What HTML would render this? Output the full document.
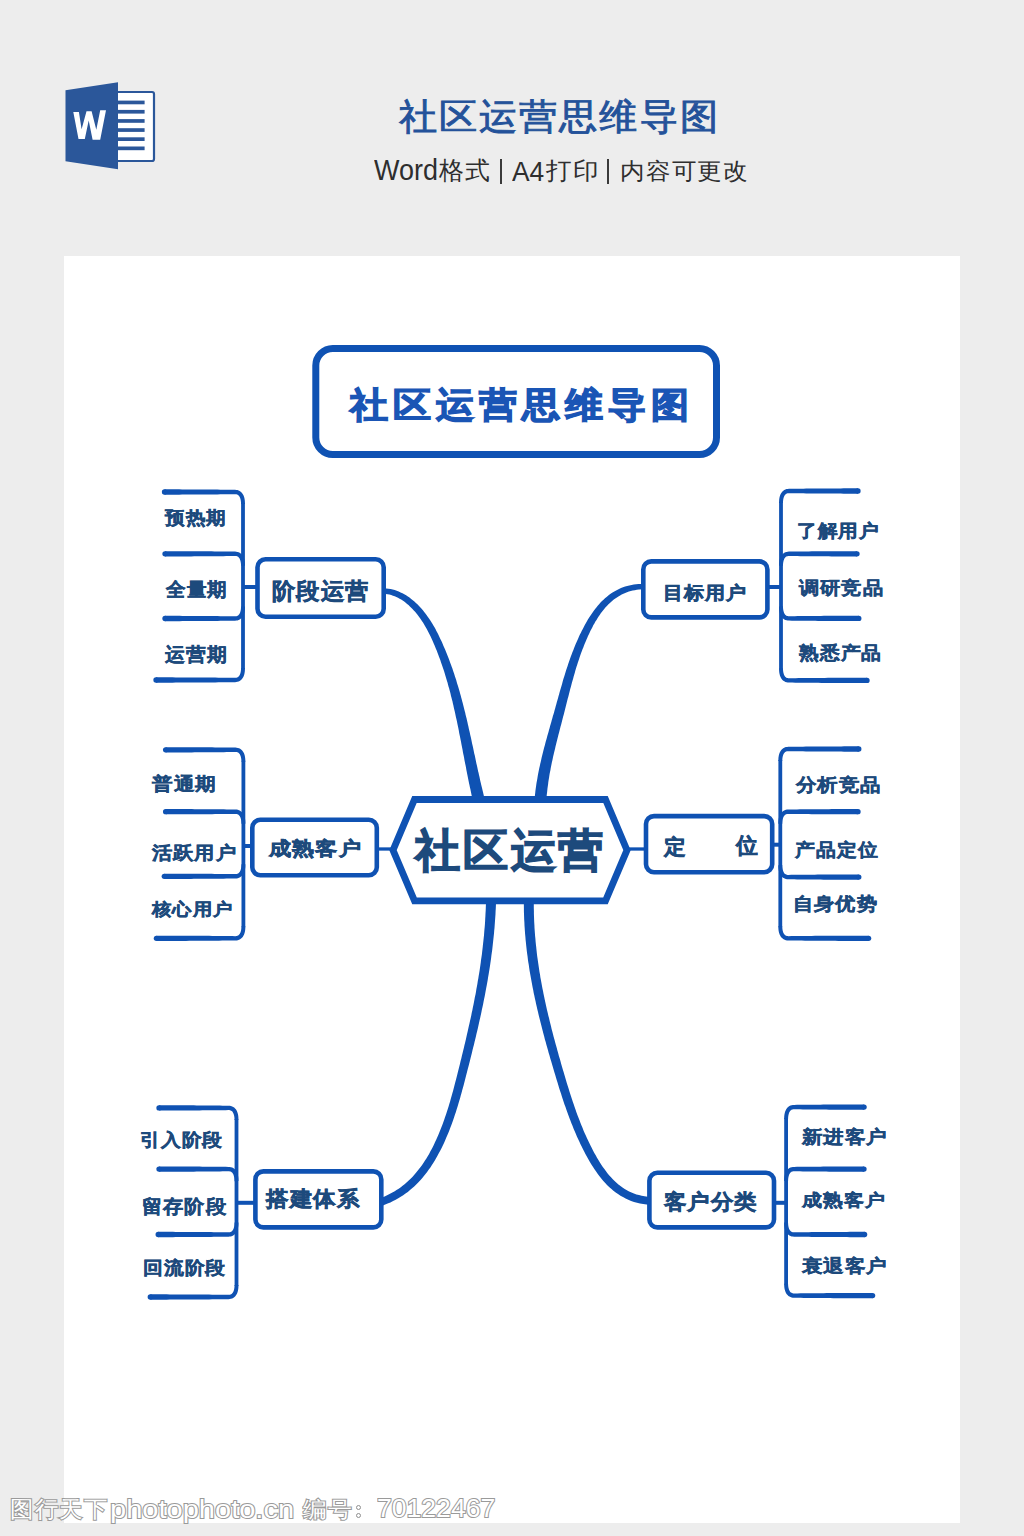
<!DOCTYPE html>
<html><head><meta charset="utf-8"><style>
html,body{margin:0;padding:0;}
body{width:1024px;height:1536px;overflow:hidden;background:#ededed;position:relative;font-family:"Liberation Sans",sans-serif;}
.abs{position:absolute;}
.t{position:absolute;white-space:nowrap;transform-origin:0 0;}
.page{position:absolute;left:64px;top:256px;width:896px;height:1267px;background:#fff;}
</style></head><body>
<div class="page"></div>
<svg class="abs" style="left:0;top:0" width="200" height="200" viewBox="0 0 200 200">
<rect x="110" y="92" width="44" height="69" rx="2" fill="#fff" stroke="#2b579a" stroke-width="2.2"/>
<g fill="#2b579a">
<rect x="112" y="100.6" width="32.6" height="3.7"/><rect x="112" y="109.9" width="32.6" height="3.7"/>
<rect x="112" y="119.1" width="32.6" height="3.7"/><rect x="112" y="128.2" width="32.6" height="3.7"/>
<rect x="112" y="137.3" width="32.6" height="3.7"/><rect x="112" y="146.5" width="32.6" height="3.7"/>
</g>
<polygon points="65.5,90.3 118,82.2 118,169.2 65.5,161.2" fill="#2b579a"/>
<path d="M73.3,112 L78.9,112 L81.6,129.3 L86.5,111.2 L91.6,111.2 L96.3,129.8 L100.2,110.3 L106,110.3 L100.2,139.8 L92.6,139.8 L88.7,120.5 L84.8,139 L78.5,139 Z" fill="#fff"/>
</svg>
<svg class="abs" style="left:0;top:0" width="1024" height="1536" viewBox="0 0 1024 1536">
<path d="M381.7,593.6 L385.7,593.9 L387.6,594.2 L389.4,594.6 L391.2,595.1 L393.0,595.7 L394.7,596.3 L396.4,597.0 L398.0,597.8 L399.6,598.7 L401.2,599.6 L402.7,600.6 L404.2,601.6 L405.7,602.7 L407.1,603.9 L408.5,605.1 L409.9,606.4 L411.2,607.7 L412.5,609.0 L413.8,610.4 L415.1,611.8 L416.3,613.3 L417.5,614.7 L418.6,616.2 L419.7,617.8 L420.8,619.3 L421.9,620.9 L423.0,622.5 L424.0,624.2 L425.0,625.9 L425.9,627.5 L426.9,629.2 L427.8,631.0 L428.7,632.7 L429.6,634.5 L430.5,636.3 L431.3,638.0 L432.1,639.8 L433.0,641.7 L433.7,643.5 L434.5,645.3 L435.3,647.2 L436.0,649.0 L436.8,650.8 L437.5,652.7 L438.2,654.6 L438.9,656.4 L439.6,658.3 L440.3,660.1 L440.9,662.0 L441.6,663.9 L442.2,665.7 L442.8,667.6 L443.5,669.5 L444.1,671.3 L444.7,673.2 L445.2,675.1 L445.8,677.0 L446.4,678.9 L446.9,680.7 L447.5,682.6 L448.0,684.5 L448.5,686.4 L449.1,688.3 L449.6,690.2 L450.1,692.1 L450.6,694.0 L451.0,695.9 L451.5,697.8 L452.0,699.7 L452.5,701.6 L452.9,703.5 L453.4,705.5 L453.8,707.4 L454.2,709.3 L454.7,711.2 L455.1,713.1 L455.5,715.1 L455.9,717.0 L456.4,718.9 L456.8,720.8 L457.2,722.8 L457.6,724.7 L458.0,726.6 L458.4,728.6 L458.8,730.5 L459.1,732.4 L459.5,734.4 L459.9,736.3 L460.3,738.3 L460.7,740.2 L461.1,742.2 L461.4,744.1 L461.8,746.1 L462.2,748.0 L462.6,750.0 L462.9,751.9 L463.3,753.9 L463.7,755.8 L464.1,757.8 L464.4,759.8 L464.8,761.7 L465.2,763.7 L465.6,765.6 L466.0,767.6 L466.3,769.6 L466.7,771.5 L467.1,773.5 L467.5,775.5 L467.9,777.4 L468.3,779.4 L468.7,781.4 L469.1,783.4 L469.5,785.3 L469.9,787.3 L470.4,789.3 L470.8,791.3 L471.2,793.3 L471.6,795.2 L473.2,802.1 L484.7,799.4 L483.1,792.6 L482.6,790.6 L482.2,788.7 L481.7,786.7 L481.2,784.8 L480.8,782.9 L480.3,780.9 L479.9,779.0 L479.5,777.0 L479.0,775.1 L478.6,773.1 L478.1,771.2 L477.7,769.2 L477.3,767.3 L476.9,765.4 L476.4,763.4 L476.0,761.5 L475.6,759.5 L475.2,757.6 L474.8,755.6 L474.3,753.7 L473.9,751.7 L473.5,749.8 L473.1,747.8 L472.7,745.9 L472.2,743.9 L471.8,742.0 L471.4,740.0 L471.0,738.1 L470.5,736.1 L470.1,734.2 L469.7,732.3 L469.2,730.3 L468.8,728.4 L468.4,726.4 L467.9,724.5 L467.5,722.5 L467.0,720.6 L466.6,718.6 L466.1,716.7 L465.6,714.8 L465.2,712.8 L464.7,710.9 L464.2,709.0 L463.7,707.0 L463.2,705.1 L462.7,703.1 L462.2,701.2 L461.7,699.3 L461.2,697.4 L460.7,695.4 L460.1,693.5 L459.6,691.6 L459.0,689.6 L458.5,687.7 L457.9,685.8 L457.3,683.9 L456.7,682.0 L456.2,680.0 L455.5,678.1 L454.9,676.2 L454.3,674.3 L453.7,672.4 L453.0,670.5 L452.4,668.6 L451.7,666.7 L451.0,664.8 L450.3,662.9 L449.6,661.0 L448.9,659.1 L448.2,657.2 L447.4,655.3 L446.7,653.4 L445.9,651.5 L445.1,649.6 L444.3,647.7 L443.5,645.9 L442.7,644.0 L441.9,642.1 L441.0,640.2 L440.1,638.4 L439.2,636.5 L438.3,634.6 L437.4,632.8 L436.4,631.0 L435.5,629.1 L434.5,627.3 L433.4,625.5 L432.4,623.8 L431.3,622.0 L430.2,620.3 L429.0,618.6 L427.9,616.9 L426.7,615.2 L425.4,613.5 L424.2,611.9 L422.9,610.3 L421.6,608.8 L420.2,607.3 L418.8,605.8 L417.4,604.3 L415.9,602.9 L414.4,601.5 L412.8,600.2 L411.2,598.9 L409.5,597.6 L407.9,596.4 L406.1,595.3 L404.3,594.3 L402.5,593.3 L400.6,592.4 L398.7,591.5 L396.7,590.8 L394.7,590.1 L392.7,589.6 L390.6,589.1 L388.4,588.8 L386.3,588.5 L382.0,588.3Z" fill="#0f52b3"/>
<path d="M642.9,583.9 L638.5,584.1 L636.1,584.3 L633.8,584.6 L631.6,585.0 L629.3,585.4 L627.2,586.0 L625.1,586.6 L623.0,587.3 L621.0,588.1 L619.0,589.0 L617.1,589.9 L615.2,590.9 L613.4,592.0 L611.7,593.1 L609.9,594.3 L608.3,595.6 L606.6,596.9 L605.0,598.3 L603.5,599.7 L602.0,601.1 L600.5,602.6 L599.1,604.2 L597.7,605.8 L596.4,607.4 L595.1,609.0 L593.8,610.7 L592.6,612.5 L591.4,614.2 L590.2,616.0 L589.0,617.8 L587.9,619.6 L586.8,621.4 L585.8,623.3 L584.8,625.1 L583.8,627.0 L582.8,628.9 L581.8,630.8 L580.9,632.7 L579.9,634.6 L579.0,636.5 L578.2,638.5 L577.3,640.4 L576.5,642.3 L575.6,644.3 L574.8,646.2 L574.0,648.2 L573.3,650.2 L572.5,652.1 L571.8,654.1 L571.0,656.1 L570.3,658.1 L569.6,660.1 L568.9,662.1 L568.2,664.1 L567.6,666.1 L566.9,668.1 L566.2,670.1 L565.6,672.1 L565.0,674.1 L564.4,676.1 L563.7,678.1 L563.1,680.1 L562.5,682.2 L562.0,684.2 L561.4,686.2 L560.8,688.2 L560.2,690.2 L559.6,692.2 L559.1,694.2 L558.5,696.2 L558.0,698.2 L557.4,700.2 L556.8,702.2 L556.3,704.2 L555.7,706.2 L555.2,708.2 L554.6,710.2 L554.1,712.2 L553.5,714.2 L552.9,716.1 L552.4,718.1 L551.8,720.1 L551.3,722.1 L550.7,724.0 L550.1,726.0 L549.6,728.0 L549.0,730.0 L548.5,731.9 L547.9,733.9 L547.3,735.9 L546.8,737.9 L546.3,739.8 L545.7,741.8 L545.2,743.8 L544.7,745.8 L544.1,747.8 L543.6,749.8 L543.1,751.8 L542.6,753.8 L542.1,755.8 L541.6,757.8 L541.2,759.8 L540.7,761.9 L540.2,763.9 L539.8,765.9 L539.3,768.0 L538.9,770.0 L538.5,772.1 L538.1,774.1 L537.7,776.2 L537.4,778.3 L537.0,780.4 L536.6,782.5 L536.3,784.6 L536.0,786.7 L535.7,788.8 L535.4,790.9 L535.2,793.1 L534.4,800.2 L546.1,801.4 L546.8,794.4 L547.1,792.3 L547.3,790.3 L547.5,788.2 L547.8,786.2 L548.1,784.2 L548.3,782.2 L548.6,780.2 L549.0,778.1 L549.3,776.1 L549.6,774.1 L550.0,772.1 L550.4,770.2 L550.7,768.2 L551.1,766.2 L551.5,764.2 L551.9,762.2 L552.4,760.2 L552.8,758.3 L553.2,756.3 L553.7,754.3 L554.1,752.4 L554.6,750.4 L555.1,748.4 L555.5,746.4 L556.0,744.5 L556.5,742.5 L557.0,740.5 L557.5,738.6 L558.0,736.6 L558.5,734.6 L559.0,732.7 L559.5,730.7 L560.0,728.7 L560.5,726.7 L561.1,724.7 L561.6,722.8 L562.1,720.8 L562.6,718.8 L563.1,716.8 L563.7,714.8 L564.2,712.8 L564.7,710.8 L565.2,708.8 L565.7,706.7 L566.2,704.7 L566.7,702.7 L567.2,700.7 L567.7,698.7 L568.3,696.7 L568.8,694.7 L569.3,692.7 L569.8,690.7 L570.3,688.7 L570.9,686.7 L571.4,684.7 L571.9,682.7 L572.5,680.7 L573.1,678.7 L573.6,676.7 L574.2,674.7 L574.8,672.7 L575.3,670.7 L575.9,668.7 L576.5,666.8 L577.2,664.8 L577.8,662.8 L578.4,660.9 L579.1,658.9 L579.7,657.0 L580.4,655.1 L581.1,653.1 L581.8,651.2 L582.5,649.3 L583.3,647.4 L584.0,645.5 L584.8,643.6 L585.6,641.7 L586.4,639.8 L587.2,637.9 L588.0,636.1 L588.9,634.2 L589.7,632.4 L590.6,630.5 L591.6,628.7 L592.5,626.9 L593.4,625.1 L594.4,623.4 L595.4,621.6 L596.5,619.9 L597.5,618.2 L598.6,616.6 L599.7,614.9 L600.8,613.3 L602.0,611.8 L603.2,610.2 L604.4,608.8 L605.6,607.3 L606.9,605.9 L608.2,604.5 L609.6,603.2 L611.0,602.0 L612.4,600.7 L613.8,599.6 L615.3,598.5 L616.9,597.4 L618.4,596.4 L620.1,595.4 L621.7,594.6 L623.4,593.7 L625.2,593.0 L627.0,592.3 L628.9,591.6 L630.8,591.1 L632.7,590.6 L634.8,590.2 L636.8,589.8 L639.0,589.5 L643.2,589.2Z" fill="#0f52b3"/>
<path d="M486.1,900.1 L485.8,907.8 L485.7,910.6 L485.5,913.4 L485.4,916.1 L485.2,918.9 L485.1,921.6 L484.9,924.4 L484.7,927.1 L484.4,929.9 L484.2,932.6 L484.0,935.3 L483.7,938.0 L483.4,940.7 L483.1,943.5 L482.8,946.2 L482.5,948.9 L482.2,951.6 L481.9,954.3 L481.5,957.0 L481.1,959.6 L480.8,962.3 L480.4,965.0 L480.0,967.7 L479.6,970.4 L479.2,973.1 L478.7,975.7 L478.3,978.4 L477.8,981.1 L477.4,983.7 L476.9,986.4 L476.4,989.1 L476.0,991.7 L475.5,994.4 L474.9,997.1 L474.4,999.7 L473.9,1002.4 L473.4,1005.0 L472.8,1007.7 L472.3,1010.4 L471.7,1013.0 L471.2,1015.7 L470.6,1018.4 L470.0,1021.0 L469.4,1023.7 L468.8,1026.3 L468.2,1029.0 L467.6,1031.7 L467.0,1034.3 L466.4,1037.0 L465.8,1039.7 L465.2,1042.3 L464.5,1045.0 L463.9,1047.7 L463.2,1050.4 L462.6,1053.0 L461.9,1055.7 L461.3,1058.4 L460.6,1061.1 L460.0,1063.8 L459.3,1066.5 L458.6,1069.2 L457.9,1071.9 L457.3,1074.6 L456.6,1077.3 L455.9,1080.0 L455.2,1082.6 L454.5,1085.3 L453.8,1088.0 L453.1,1090.7 L452.3,1093.4 L451.6,1096.1 L450.8,1098.7 L450.1,1101.4 L449.3,1104.0 L448.5,1106.7 L447.7,1109.3 L446.8,1111.9 L446.0,1114.5 L445.1,1117.1 L444.2,1119.7 L443.3,1122.2 L442.4,1124.8 L441.4,1127.3 L440.4,1129.8 L439.4,1132.3 L438.4,1134.8 L437.3,1137.3 L436.2,1139.7 L435.1,1142.1 L434.0,1144.5 L432.8,1146.9 L431.6,1149.3 L430.3,1151.6 L429.1,1153.9 L427.7,1156.2 L426.4,1158.4 L425.0,1160.6 L423.6,1162.8 L422.1,1164.9 L420.6,1167.0 L419.0,1169.1 L417.4,1171.1 L415.8,1173.1 L414.1,1175.0 L412.4,1176.9 L410.6,1178.8 L408.7,1180.5 L406.8,1182.3 L404.9,1184.0 L402.9,1185.6 L400.8,1187.2 L398.7,1188.7 L396.5,1190.1 L394.3,1191.5 L391.9,1192.8 L389.5,1194.1 L387.1,1195.3 L384.6,1196.4 L380.1,1198.2 L382.9,1205.5 L387.6,1203.6 L390.4,1202.4 L393.1,1201.1 L395.7,1199.8 L398.3,1198.3 L400.7,1196.8 L403.2,1195.2 L405.5,1193.6 L407.8,1191.9 L410.0,1190.1 L412.1,1188.3 L414.2,1186.4 L416.2,1184.5 L418.2,1182.5 L420.1,1180.4 L421.9,1178.4 L423.7,1176.2 L425.5,1174.1 L427.1,1171.9 L428.8,1169.6 L430.4,1167.4 L431.9,1165.1 L433.4,1162.7 L434.8,1160.4 L436.2,1158.0 L437.6,1155.6 L438.9,1153.1 L440.2,1150.7 L441.5,1148.2 L442.7,1145.7 L443.9,1143.2 L445.0,1140.7 L446.1,1138.1 L447.2,1135.6 L448.3,1133.0 L449.3,1130.4 L450.3,1127.8 L451.3,1125.2 L452.3,1122.5 L453.2,1119.9 L454.1,1117.2 L455.0,1114.6 L455.9,1111.9 L456.7,1109.2 L457.6,1106.5 L458.4,1103.8 L459.2,1101.1 L460.0,1098.4 L460.7,1095.7 L461.5,1093.0 L462.2,1090.3 L463.0,1087.6 L463.7,1084.9 L464.4,1082.2 L465.1,1079.5 L465.8,1076.7 L466.5,1074.0 L467.2,1071.3 L467.9,1068.6 L468.6,1065.9 L469.3,1063.3 L470.0,1060.6 L470.6,1057.9 L471.3,1055.2 L472.0,1052.5 L472.6,1049.8 L473.3,1047.1 L474.0,1044.4 L474.6,1041.8 L475.3,1039.1 L475.9,1036.4 L476.5,1033.7 L477.2,1031.0 L477.8,1028.4 L478.4,1025.7 L479.0,1023.0 L479.6,1020.3 L480.2,1017.7 L480.8,1015.0 L481.4,1012.3 L481.9,1009.6 L482.5,1006.9 L483.1,1004.2 L483.6,1001.6 L484.1,998.9 L484.7,996.2 L485.2,993.5 L485.7,990.8 L486.2,988.1 L486.7,985.4 L487.2,982.7 L487.7,980.0 L488.1,977.3 L488.6,974.6 L489.0,971.9 L489.5,969.1 L489.9,966.4 L490.3,963.7 L490.7,961.0 L491.1,958.2 L491.4,955.5 L491.8,952.8 L492.2,950.0 L492.5,947.3 L492.8,944.5 L493.1,941.8 L493.4,939.0 L493.7,936.2 L494.0,933.5 L494.2,930.7 L494.5,927.9 L494.7,925.1 L494.9,922.3 L495.1,919.5 L495.3,916.7 L495.5,913.9 L495.6,911.1 L495.8,908.3 L496.1,900.4Z" fill="#0f52b3"/>
<path d="M523.8,900.2 L523.9,908.1 L523.9,911.0 L524.0,913.9 L524.1,916.8 L524.2,919.7 L524.4,922.6 L524.5,925.4 L524.7,928.3 L524.9,931.2 L525.1,934.0 L525.4,936.9 L525.6,939.7 L525.9,942.6 L526.2,945.4 L526.5,948.2 L526.8,951.0 L527.2,953.9 L527.6,956.7 L527.9,959.5 L528.3,962.3 L528.8,965.1 L529.2,967.9 L529.6,970.7 L530.1,973.5 L530.6,976.2 L531.1,979.0 L531.6,981.8 L532.1,984.6 L532.6,987.3 L533.2,990.1 L533.7,992.9 L534.3,995.6 L534.9,998.4 L535.5,1001.1 L536.1,1003.9 L536.7,1006.6 L537.3,1009.3 L538.0,1012.1 L538.6,1014.8 L539.3,1017.6 L540.0,1020.3 L540.7,1023.0 L541.4,1025.7 L542.1,1028.5 L542.8,1031.2 L543.5,1033.9 L544.2,1036.6 L544.9,1039.4 L545.7,1042.1 L546.4,1044.8 L547.2,1047.5 L548.0,1050.2 L548.7,1052.9 L549.5,1055.6 L550.3,1058.4 L551.1,1061.1 L551.9,1063.8 L552.7,1066.5 L553.5,1069.2 L554.3,1071.9 L555.1,1074.6 L555.9,1077.3 L556.7,1080.0 L557.6,1082.8 L558.4,1085.5 L559.2,1088.2 L560.1,1090.9 L561.0,1093.6 L561.8,1096.3 L562.7,1099.0 L563.6,1101.7 L564.5,1104.4 L565.5,1107.1 L566.4,1109.8 L567.4,1112.5 L568.4,1115.2 L569.4,1117.9 L570.4,1120.5 L571.4,1123.2 L572.5,1125.8 L573.5,1128.5 L574.6,1131.1 L575.8,1133.8 L576.9,1136.4 L578.1,1139.0 L579.3,1141.6 L580.5,1144.2 L581.8,1146.7 L583.0,1149.3 L584.3,1151.8 L585.7,1154.4 L587.1,1156.9 L588.5,1159.4 L589.9,1161.9 L591.4,1164.4 L592.9,1166.8 L594.5,1169.2 L596.1,1171.6 L597.8,1173.9 L599.5,1176.2 L601.3,1178.5 L603.1,1180.7 L605.0,1182.8 L607.0,1184.9 L609.1,1186.9 L611.2,1188.8 L613.4,1190.7 L615.7,1192.4 L618.0,1194.1 L620.5,1195.7 L623.0,1197.1 L625.6,1198.5 L628.3,1199.7 L631.1,1200.9 L634.0,1201.9 L637.0,1202.7 L640.0,1203.5 L643.2,1204.1 L648.4,1204.7 L649.3,1197.0 L644.5,1196.3 L641.7,1195.8 L639.0,1195.1 L636.4,1194.4 L633.9,1193.5 L631.5,1192.5 L629.1,1191.4 L626.9,1190.2 L624.7,1188.9 L622.5,1187.5 L620.5,1186.0 L618.4,1184.4 L616.5,1182.8 L614.6,1181.0 L612.8,1179.2 L611.0,1177.3 L609.3,1175.4 L607.6,1173.4 L606.0,1171.3 L604.4,1169.1 L602.8,1166.9 L601.3,1164.7 L599.9,1162.4 L598.4,1160.1 L597.0,1157.7 L595.7,1155.3 L594.3,1152.9 L593.0,1150.5 L591.8,1148.0 L590.5,1145.5 L589.3,1143.0 L588.1,1140.5 L586.9,1138.0 L585.8,1135.5 L584.6,1133.0 L583.5,1130.4 L582.5,1127.8 L581.4,1125.3 L580.4,1122.7 L579.4,1120.1 L578.4,1117.5 L577.4,1114.9 L576.4,1112.2 L575.5,1109.6 L574.6,1107.0 L573.7,1104.3 L572.8,1101.7 L571.9,1099.0 L571.0,1096.3 L570.1,1093.6 L569.3,1091.0 L568.5,1088.3 L567.6,1085.6 L566.8,1082.9 L566.0,1080.2 L565.2,1077.5 L564.4,1074.8 L563.6,1072.1 L562.8,1069.4 L562.0,1066.7 L561.2,1064.0 L560.5,1061.3 L559.7,1058.6 L558.9,1055.9 L558.2,1053.2 L557.4,1050.5 L556.7,1047.8 L555.9,1045.1 L555.2,1042.4 L554.5,1039.7 L553.7,1037.0 L553.0,1034.3 L552.3,1031.6 L551.6,1028.9 L551.0,1026.2 L550.3,1023.5 L549.6,1020.8 L549.0,1018.1 L548.3,1015.4 L547.7,1012.7 L547.0,1010.0 L546.4,1007.3 L545.8,1004.6 L545.2,1001.8 L544.6,999.1 L544.1,996.4 L543.5,993.7 L543.0,991.0 L542.4,988.3 L541.9,985.5 L541.4,982.8 L540.9,980.1 L540.4,977.4 L540.0,974.6 L539.5,971.9 L539.1,969.2 L538.7,966.4 L538.3,963.7 L537.9,960.9 L537.5,958.2 L537.1,955.4 L536.8,952.7 L536.5,949.9 L536.2,947.1 L535.9,944.4 L535.6,941.6 L535.4,938.8 L535.1,936.1 L534.9,933.3 L534.7,930.5 L534.5,927.7 L534.4,924.9 L534.2,922.1 L534.1,919.3 L534.0,916.5 L533.9,913.6 L533.9,910.8 L533.8,908.0 L533.8,900.2Z" fill="#0f52b3"/>
<polygon points="414.5,799.5 605.5,799.5 627,850.2 605.5,900.9 414.5,900.9 393,850.2" fill="#fff" stroke="#0f52b3" stroke-width="6.8" stroke-linejoin="miter" stroke-miterlimit="1.6"/>
<line x1="377" y1="849" x2="394" y2="849" stroke="#0f52b3" stroke-width="3.3"/>
<line x1="626" y1="849" x2="646" y2="849" stroke="#0f52b3" stroke-width="3.3"/>
<rect x="315.8" y="348.5" width="400.7" height="106" rx="17" fill="#fff" stroke="#0f52b3" stroke-width="7"/>
<path d="M243,503 L243,669" stroke="#0f52b3" stroke-width="3.8" fill="none"/>
<path d="M164.50,494.65 L167.44,494.65 L170.38,494.65 L173.31,494.64 L176.25,494.64 L179.19,494.63 L182.12,494.62 L185.06,494.61 L188.00,494.60 L190.94,494.59 L193.88,494.57 L196.81,494.55 L199.75,494.53 L202.69,494.51 L205.62,494.49 L208.56,494.47 L211.50,494.44 L214.44,494.42 L217.38,494.39 L220.31,494.36 L223.25,494.33 L226.19,494.30 L229.12,494.26 L232.06,494.23 L234.97,494.19 L235.76,494.22 L236.44,494.32 L237.04,494.50 L237.59,494.75 L238.09,495.06 L238.56,495.46 L239.00,495.95 L239.41,496.55 L239.80,497.26 L240.14,498.09 L240.44,499.03 L240.68,500.10 L240.87,501.29 L240.99,502.59 L241.05,504.05 L244.95,503.95 L244.93,502.39 L244.84,500.86 L244.65,499.41 L244.39,498.04 L244.02,496.76 L243.57,495.56 L243.01,494.44 L242.34,493.42 L241.57,492.50 L240.68,491.69 L239.69,491.02 L238.61,490.50 L237.46,490.12 L236.25,489.90 L235.03,489.81 L232.06,489.77 L229.12,489.74 L226.19,489.70 L223.25,489.67 L220.31,489.64 L217.38,489.61 L214.44,489.58 L211.50,489.56 L208.56,489.53 L205.62,489.51 L202.69,489.49 L199.75,489.47 L196.81,489.45 L193.88,489.43 L190.94,489.41 L188.00,489.40 L185.06,489.39 L182.12,489.38 L179.19,489.37 L176.25,489.36 L173.31,489.36 L170.38,489.35 L167.44,489.35 L164.50,489.35Z" fill="#0f52b3"/>
<circle cx="164.5" cy="492" r="2.65" fill="#0f52b3"/>
<path d="M165.00,556.45 L167.92,556.45 L170.83,556.45 L173.75,556.44 L176.67,556.44 L179.58,556.43 L182.50,556.42 L185.42,556.41 L188.33,556.40 L191.25,556.39 L194.17,556.37 L197.08,556.35 L200.00,556.33 L202.92,556.31 L205.83,556.29 L208.75,556.27 L211.67,556.25 L214.58,556.22 L217.50,556.19 L220.42,556.16 L223.33,556.13 L226.25,556.10 L229.17,556.06 L232.08,556.03 L234.97,555.99 L235.76,556.02 L236.44,556.12 L237.04,556.30 L237.59,556.55 L238.09,556.86 L238.56,557.26 L239.00,557.75 L239.41,558.35 L239.79,559.06 L240.14,559.89 L240.43,560.83 L240.68,561.90 L240.87,563.09 L240.99,564.39 L241.05,565.85 L244.95,565.75 L244.93,564.19 L244.84,562.66 L244.65,561.21 L244.39,559.84 L244.03,558.56 L243.57,557.36 L243.01,556.24 L242.34,555.21 L241.57,554.29 L240.68,553.49 L239.69,552.82 L238.61,552.30 L237.46,551.92 L236.25,551.69 L235.03,551.61 L232.08,551.57 L229.17,551.54 L226.25,551.50 L223.33,551.47 L220.42,551.44 L217.50,551.41 L214.58,551.38 L211.67,551.35 L208.75,551.33 L205.83,551.31 L202.92,551.29 L200.00,551.27 L197.08,551.25 L194.17,551.23 L191.25,551.21 L188.33,551.20 L185.42,551.19 L182.50,551.18 L179.58,551.17 L176.67,551.16 L173.75,551.16 L170.83,551.15 L167.92,551.15 L165.00,551.15Z" fill="#0f52b3"/>
<circle cx="165" cy="553.8" r="2.65" fill="#0f52b3"/>
<path d="M165.00,621.15 L167.92,621.15 L170.83,621.15 L173.75,621.14 L176.67,621.14 L179.58,621.13 L182.50,621.12 L185.42,621.11 L188.33,621.10 L191.25,621.09 L194.17,621.07 L197.08,621.05 L200.00,621.03 L202.92,621.01 L205.83,620.99 L208.75,620.97 L211.67,620.95 L214.58,620.92 L217.50,620.89 L220.42,620.86 L223.33,620.83 L226.25,620.80 L229.17,620.76 L232.08,620.73 L235.03,620.69 L236.25,620.61 L237.46,620.38 L238.61,620.00 L239.69,619.48 L240.68,618.81 L241.57,618.01 L242.34,617.09 L243.01,616.06 L243.57,614.94 L244.03,613.74 L244.39,612.46 L244.65,611.09 L244.84,609.64 L244.93,608.11 L244.95,606.55 L241.05,606.45 L240.99,607.91 L240.87,609.21 L240.68,610.40 L240.43,611.47 L240.14,612.41 L239.79,613.24 L239.41,613.95 L239.00,614.55 L238.56,615.04 L238.09,615.44 L237.59,615.75 L237.04,616.00 L236.44,616.18 L235.76,616.28 L234.97,616.31 L232.08,616.27 L229.17,616.24 L226.25,616.20 L223.33,616.17 L220.42,616.14 L217.50,616.11 L214.58,616.08 L211.67,616.05 L208.75,616.03 L205.83,616.01 L202.92,615.99 L200.00,615.97 L197.08,615.95 L194.17,615.93 L191.25,615.91 L188.33,615.90 L185.42,615.89 L182.50,615.88 L179.58,615.87 L176.67,615.86 L173.75,615.86 L170.83,615.85 L167.92,615.85 L165.00,615.85Z" fill="#0f52b3"/>
<circle cx="165" cy="618.5" r="2.65" fill="#0f52b3"/>
<path d="M156.00,682.65 L159.29,682.65 L162.58,682.65 L165.88,682.64 L169.17,682.64 L172.46,682.63 L175.75,682.62 L179.04,682.61 L182.33,682.60 L185.62,682.58 L188.92,682.57 L192.21,682.55 L195.50,682.53 L198.79,682.51 L202.08,682.49 L205.38,682.46 L208.67,682.44 L211.96,682.41 L215.25,682.38 L218.54,682.35 L221.83,682.32 L225.12,682.28 L228.42,682.25 L231.71,682.21 L235.03,682.17 L236.25,682.09 L237.46,681.86 L238.61,681.49 L239.68,680.96 L240.67,680.30 L241.56,679.50 L242.33,678.58 L243.00,677.56 L243.56,676.44 L244.02,675.24 L244.38,673.95 L244.65,672.59 L244.83,671.14 L244.93,669.61 L244.95,668.05 L241.05,667.95 L240.99,669.41 L240.87,670.71 L240.69,671.90 L240.44,672.97 L240.15,673.92 L239.80,674.75 L239.42,675.46 L239.01,676.06 L238.57,676.55 L238.10,676.95 L237.60,677.27 L237.05,677.51 L236.44,677.69 L235.76,677.80 L234.97,677.83 L231.71,677.79 L228.42,677.75 L225.12,677.72 L221.83,677.68 L218.54,677.65 L215.25,677.62 L211.96,677.59 L208.67,677.56 L205.38,677.54 L202.08,677.51 L198.79,677.49 L195.50,677.47 L192.21,677.45 L188.92,677.43 L185.62,677.42 L182.33,677.40 L179.04,677.39 L175.75,677.38 L172.46,677.37 L169.17,677.36 L165.88,677.36 L162.58,677.35 L159.29,677.35 L156.00,677.35Z" fill="#0f52b3"/>
<circle cx="156" cy="680" r="2.65" fill="#0f52b3"/>
<line x1="243" y1="587" x2="257.2" y2="587" stroke="#0f52b3" stroke-width="4"/>
<rect x="257.5" y="559.3" width="126.20000000000002" height="57.4" rx="8" fill="#fff" stroke="#0f52b3" stroke-width="4.6"/>
<path d="M781,502 L781,669.4" stroke="#0f52b3" stroke-width="3.8" fill="none"/>
<path d="M858.00,488.35 L855.12,488.35 L852.25,488.35 L849.38,488.36 L846.50,488.36 L843.62,488.37 L840.75,488.38 L837.88,488.39 L835.00,488.40 L832.12,488.41 L829.25,488.43 L826.38,488.45 L823.50,488.46 L820.62,488.48 L817.75,488.51 L814.88,488.53 L812.00,488.55 L809.12,488.58 L806.25,488.61 L803.38,488.64 L800.50,488.67 L797.62,488.70 L794.75,488.74 L791.88,488.77 L788.97,488.81 L787.75,488.89 L786.54,489.12 L785.39,489.50 L784.31,490.02 L783.32,490.69 L782.43,491.49 L781.65,492.41 L780.99,493.44 L780.43,494.55 L779.97,495.76 L779.61,497.04 L779.34,498.41 L779.16,499.86 L779.07,501.39 L779.05,502.95 L782.95,503.05 L783.01,501.59 L783.13,500.29 L783.32,499.10 L783.57,498.04 L783.86,497.09 L784.21,496.26 L784.59,495.55 L785.00,494.95 L785.44,494.46 L785.91,494.06 L786.41,493.75 L786.96,493.50 L787.56,493.33 L788.24,493.22 L789.03,493.19 L791.88,493.23 L794.75,493.26 L797.62,493.30 L800.50,493.33 L803.38,493.36 L806.25,493.39 L809.12,493.42 L812.00,493.45 L814.88,493.47 L817.75,493.49 L820.62,493.52 L823.50,493.54 L826.38,493.55 L829.25,493.57 L832.12,493.59 L835.00,493.60 L837.88,493.61 L840.75,493.62 L843.62,493.63 L846.50,493.64 L849.38,493.64 L852.25,493.65 L855.12,493.65 L858.00,493.65Z" fill="#0f52b3"/>
<circle cx="858" cy="491" r="2.65" fill="#0f52b3"/>
<path d="M857.00,551.15 L854.17,551.15 L851.33,551.15 L848.50,551.16 L845.67,551.16 L842.83,551.17 L840.00,551.18 L837.17,551.19 L834.33,551.20 L831.50,551.21 L828.67,551.23 L825.83,551.25 L823.00,551.26 L820.17,551.28 L817.33,551.31 L814.50,551.33 L811.67,551.35 L808.83,551.38 L806.00,551.41 L803.17,551.44 L800.33,551.47 L797.50,551.50 L794.67,551.53 L791.83,551.57 L788.97,551.61 L787.74,551.69 L786.54,551.92 L785.38,552.29 L784.31,552.82 L783.32,553.49 L782.43,554.29 L781.65,555.21 L780.99,556.24 L780.43,557.35 L779.97,558.56 L779.61,559.84 L779.34,561.21 L779.16,562.66 L779.06,564.19 L779.05,565.75 L782.95,565.85 L783.01,564.39 L783.13,563.09 L783.32,561.90 L783.57,560.84 L783.86,559.89 L784.21,559.06 L784.59,558.35 L785.00,557.75 L785.45,557.26 L785.91,556.87 L786.41,556.55 L786.96,556.31 L787.56,556.13 L788.24,556.02 L789.03,555.99 L791.83,556.03 L794.67,556.07 L797.50,556.10 L800.33,556.13 L803.17,556.16 L806.00,556.19 L808.83,556.22 L811.67,556.25 L814.50,556.27 L817.33,556.29 L820.17,556.32 L823.00,556.34 L825.83,556.35 L828.67,556.37 L831.50,556.39 L834.33,556.40 L837.17,556.41 L840.00,556.42 L842.83,556.43 L845.67,556.44 L848.50,556.44 L851.33,556.45 L854.17,556.45 L857.00,556.45Z" fill="#0f52b3"/>
<circle cx="857" cy="553.8" r="2.65" fill="#0f52b3"/>
<path d="M858.80,615.75 L855.89,615.75 L852.98,615.75 L850.07,615.76 L847.17,615.76 L844.26,615.77 L841.35,615.78 L838.44,615.79 L835.53,615.80 L832.62,615.81 L829.72,615.83 L826.81,615.85 L823.90,615.87 L820.99,615.89 L818.08,615.91 L815.17,615.93 L812.27,615.95 L809.36,615.98 L806.45,616.01 L803.54,616.04 L800.63,616.07 L797.73,616.10 L794.82,616.14 L791.91,616.17 L789.03,616.21 L788.24,616.18 L787.56,616.08 L786.96,615.90 L786.41,615.65 L785.91,615.34 L785.44,614.94 L785.00,614.45 L784.59,613.85 L784.21,613.14 L783.86,612.31 L783.57,611.37 L783.32,610.30 L783.13,609.11 L783.01,607.81 L782.95,606.35 L779.05,606.45 L779.07,608.01 L779.16,609.54 L779.35,610.99 L779.61,612.36 L779.97,613.64 L780.43,614.84 L780.99,615.96 L781.66,616.99 L782.43,617.91 L783.32,618.71 L784.31,619.38 L785.39,619.90 L786.54,620.28 L787.75,620.51 L788.97,620.59 L791.91,620.63 L794.82,620.66 L797.73,620.70 L800.63,620.73 L803.54,620.76 L806.45,620.79 L809.36,620.82 L812.27,620.85 L815.17,620.87 L818.08,620.89 L820.99,620.91 L823.90,620.93 L826.81,620.95 L829.72,620.97 L832.62,620.99 L835.53,621.00 L838.44,621.01 L841.35,621.02 L844.26,621.03 L847.17,621.04 L850.07,621.04 L852.98,621.05 L855.89,621.05 L858.80,621.05Z" fill="#0f52b3"/>
<circle cx="858.8" cy="618.4" r="2.65" fill="#0f52b3"/>
<path d="M867.00,677.75 L863.75,677.75 L860.50,677.75 L857.25,677.76 L854.00,677.76 L850.75,677.77 L847.50,677.78 L844.25,677.79 L841.00,677.80 L837.75,677.82 L834.50,677.83 L831.25,677.85 L828.00,677.87 L824.75,677.89 L821.50,677.91 L818.25,677.94 L815.00,677.96 L811.75,677.99 L808.50,678.02 L805.25,678.05 L802.00,678.08 L798.75,678.12 L795.50,678.15 L792.25,678.19 L789.03,678.23 L788.24,678.20 L787.56,678.09 L786.95,677.91 L786.40,677.67 L785.90,677.35 L785.43,676.95 L784.99,676.46 L784.58,675.86 L784.20,675.15 L783.85,674.32 L783.56,673.37 L783.31,672.30 L783.13,671.11 L783.01,669.81 L782.95,668.35 L779.05,668.45 L779.07,670.01 L779.17,671.54 L779.35,672.99 L779.62,674.35 L779.98,675.64 L780.44,676.84 L781.00,677.96 L781.67,678.98 L782.44,679.90 L783.33,680.70 L784.32,681.36 L785.39,681.89 L786.54,682.26 L787.75,682.49 L788.97,682.57 L792.25,682.61 L795.50,682.65 L798.75,682.68 L802.00,682.72 L805.25,682.75 L808.50,682.78 L811.75,682.81 L815.00,682.84 L818.25,682.86 L821.50,682.89 L824.75,682.91 L828.00,682.93 L831.25,682.95 L834.50,682.97 L837.75,682.98 L841.00,683.00 L844.25,683.01 L847.50,683.02 L850.75,683.03 L854.00,683.04 L857.25,683.04 L860.50,683.05 L863.75,683.05 L867.00,683.05Z" fill="#0f52b3"/>
<circle cx="867" cy="680.4" r="2.65" fill="#0f52b3"/>
<line x1="767.7" y1="587" x2="781" y2="587" stroke="#0f52b3" stroke-width="4"/>
<rect x="643.3" y="561.4" width="124.10000000000005" height="56.00000000000002" rx="8" fill="#fff" stroke="#0f52b3" stroke-width="4.6"/>
<path d="M243.4,760.8 L243.4,927.3" stroke="#0f52b3" stroke-width="3.8" fill="none"/>
<path d="M165.60,752.45 L168.51,752.45 L171.42,752.45 L174.32,752.44 L177.23,752.44 L180.14,752.43 L183.05,752.42 L185.96,752.41 L188.87,752.40 L191.78,752.39 L194.68,752.37 L197.59,752.35 L200.50,752.33 L203.41,752.31 L206.32,752.29 L209.22,752.27 L212.13,752.25 L215.04,752.22 L217.95,752.19 L220.86,752.16 L223.77,752.13 L226.68,752.10 L229.58,752.06 L232.49,752.03 L235.37,751.99 L236.16,752.02 L236.84,752.12 L237.44,752.30 L237.99,752.55 L238.49,752.86 L238.96,753.26 L239.40,753.75 L239.81,754.35 L240.19,755.06 L240.54,755.89 L240.83,756.83 L241.08,757.90 L241.27,759.09 L241.39,760.39 L241.45,761.85 L245.35,761.75 L245.33,760.19 L245.24,758.66 L245.05,757.21 L244.79,755.84 L244.43,754.56 L243.97,753.36 L243.41,752.24 L242.74,751.21 L241.97,750.29 L241.08,749.49 L240.09,748.82 L239.01,748.30 L237.86,747.92 L236.65,747.69 L235.43,747.61 L232.49,747.57 L229.58,747.54 L226.68,747.50 L223.77,747.47 L220.86,747.44 L217.95,747.41 L215.04,747.38 L212.13,747.35 L209.22,747.33 L206.32,747.31 L203.41,747.29 L200.50,747.27 L197.59,747.25 L194.68,747.23 L191.78,747.21 L188.87,747.20 L185.96,747.19 L183.05,747.18 L180.14,747.17 L177.23,747.16 L174.32,747.16 L171.42,747.15 L168.51,747.15 L165.60,747.15Z" fill="#0f52b3"/>
<circle cx="165.6" cy="749.8" r="2.65" fill="#0f52b3"/>
<path d="M165.60,814.35 L168.51,814.35 L171.42,814.35 L174.32,814.34 L177.23,814.34 L180.14,814.33 L183.05,814.32 L185.96,814.31 L188.87,814.30 L191.78,814.29 L194.68,814.27 L197.59,814.25 L200.50,814.23 L203.41,814.21 L206.32,814.19 L209.22,814.17 L212.13,814.15 L215.04,814.12 L217.95,814.09 L220.86,814.06 L223.77,814.03 L226.68,814.00 L229.58,813.96 L232.49,813.93 L235.37,813.89 L236.16,813.92 L236.84,814.02 L237.44,814.20 L237.99,814.45 L238.49,814.76 L238.96,815.16 L239.40,815.65 L239.81,816.25 L240.19,816.96 L240.54,817.79 L240.83,818.73 L241.08,819.80 L241.27,820.99 L241.39,822.29 L241.45,823.75 L245.35,823.65 L245.33,822.09 L245.24,820.56 L245.05,819.11 L244.79,817.74 L244.43,816.46 L243.97,815.26 L243.41,814.14 L242.74,813.11 L241.97,812.19 L241.08,811.39 L240.09,810.72 L239.01,810.20 L237.86,809.82 L236.65,809.59 L235.43,809.51 L232.49,809.47 L229.58,809.44 L226.68,809.40 L223.77,809.37 L220.86,809.34 L217.95,809.31 L215.04,809.28 L212.13,809.25 L209.22,809.23 L206.32,809.21 L203.41,809.19 L200.50,809.17 L197.59,809.15 L194.68,809.13 L191.78,809.11 L188.87,809.10 L185.96,809.09 L183.05,809.08 L180.14,809.07 L177.23,809.06 L174.32,809.06 L171.42,809.05 L168.51,809.05 L165.60,809.05Z" fill="#0f52b3"/>
<circle cx="165.6" cy="811.7" r="2.65" fill="#0f52b3"/>
<path d="M164.30,878.95 L167.26,878.95 L170.23,878.95 L173.19,878.94 L176.15,878.94 L179.11,878.93 L182.08,878.92 L185.04,878.91 L188.00,878.90 L190.96,878.88 L193.93,878.87 L196.89,878.85 L199.85,878.83 L202.81,878.81 L205.78,878.79 L208.74,878.77 L211.70,878.74 L214.66,878.72 L217.62,878.69 L220.59,878.66 L223.55,878.63 L226.51,878.60 L229.48,878.56 L232.44,878.52 L235.43,878.49 L236.65,878.40 L237.86,878.18 L239.01,877.80 L240.09,877.28 L241.08,876.61 L241.97,875.80 L242.74,874.88 L243.41,873.86 L243.97,872.74 L244.42,871.54 L244.78,870.26 L245.05,868.89 L245.24,867.44 L245.33,865.91 L245.35,864.35 L241.45,864.25 L241.39,865.71 L241.27,867.01 L241.08,868.20 L240.84,869.27 L240.54,870.21 L240.20,871.04 L239.81,871.75 L239.40,872.35 L238.96,872.84 L238.49,873.24 L237.99,873.56 L237.45,873.80 L236.84,873.98 L236.16,874.08 L235.37,874.11 L232.44,874.08 L229.48,874.04 L226.51,874.00 L223.55,873.97 L220.59,873.94 L217.62,873.91 L214.66,873.88 L211.70,873.86 L208.74,873.83 L205.78,873.81 L202.81,873.79 L199.85,873.77 L196.89,873.75 L193.93,873.73 L190.96,873.72 L188.00,873.70 L185.04,873.69 L182.08,873.68 L179.11,873.67 L176.15,873.66 L173.19,873.66 L170.23,873.65 L167.26,873.65 L164.30,873.65Z" fill="#0f52b3"/>
<circle cx="164.3" cy="876.3" r="2.65" fill="#0f52b3"/>
<path d="M156.40,940.95 L159.69,940.95 L162.98,940.95 L166.28,940.94 L169.57,940.94 L172.86,940.93 L176.15,940.92 L179.44,940.91 L182.73,940.90 L186.03,940.88 L189.32,940.87 L192.61,940.85 L195.90,940.83 L199.19,940.81 L202.48,940.79 L205.78,940.76 L209.07,940.74 L212.36,940.71 L215.65,940.68 L218.94,940.65 L222.23,940.62 L225.53,940.58 L228.82,940.55 L232.11,940.51 L235.43,940.47 L236.65,940.39 L237.86,940.16 L239.01,939.79 L240.08,939.26 L241.07,938.60 L241.96,937.80 L242.73,936.88 L243.40,935.86 L243.96,934.74 L244.42,933.54 L244.78,932.25 L245.05,930.89 L245.23,929.44 L245.33,927.91 L245.35,926.35 L241.45,926.25 L241.39,927.71 L241.27,929.01 L241.09,930.20 L240.84,931.27 L240.55,932.22 L240.20,933.05 L239.82,933.76 L239.41,934.36 L238.97,934.85 L238.50,935.25 L238.00,935.57 L237.45,935.81 L236.84,935.99 L236.16,936.10 L235.37,936.13 L232.11,936.09 L228.82,936.05 L225.53,936.02 L222.23,935.98 L218.94,935.95 L215.65,935.92 L212.36,935.89 L209.07,935.86 L205.78,935.84 L202.48,935.81 L199.19,935.79 L195.90,935.77 L192.61,935.75 L189.32,935.73 L186.03,935.72 L182.73,935.70 L179.44,935.69 L176.15,935.68 L172.86,935.67 L169.57,935.66 L166.28,935.66 L162.98,935.65 L159.69,935.65 L156.40,935.65Z" fill="#0f52b3"/>
<circle cx="156.4" cy="938.3" r="2.65" fill="#0f52b3"/>
<line x1="243.4" y1="846" x2="252" y2="846" stroke="#0f52b3" stroke-width="4"/>
<rect x="252.3" y="819.8" width="124.50000000000003" height="55.50000000000002" rx="8" fill="#fff" stroke="#0f52b3" stroke-width="4.6"/>
<path d="M780.3,760 L780.3,927.3" stroke="#0f52b3" stroke-width="3.8" fill="none"/>
<path d="M858.80,746.35 L855.86,746.35 L852.92,746.35 L849.99,746.36 L847.05,746.36 L844.11,746.37 L841.17,746.38 L838.24,746.39 L835.30,746.40 L832.36,746.41 L829.42,746.43 L826.49,746.45 L823.55,746.47 L820.61,746.49 L817.67,746.51 L814.74,746.53 L811.80,746.56 L808.86,746.58 L805.92,746.61 L802.99,746.64 L800.05,746.67 L797.11,746.70 L794.17,746.74 L791.24,746.77 L788.27,746.81 L787.05,746.90 L785.84,747.12 L784.69,747.50 L783.61,748.02 L782.62,748.69 L781.73,749.50 L780.96,750.42 L780.29,751.44 L779.73,752.56 L779.28,753.76 L778.91,755.04 L778.65,756.41 L778.46,757.86 L778.37,759.39 L778.35,760.95 L782.25,761.05 L782.31,759.59 L782.43,758.29 L782.62,757.10 L782.86,756.03 L783.16,755.09 L783.50,754.26 L783.89,753.55 L784.30,752.95 L784.74,752.46 L785.21,752.06 L785.71,751.75 L786.26,751.50 L786.86,751.32 L787.54,751.22 L788.33,751.19 L791.24,751.23 L794.17,751.26 L797.11,751.30 L800.05,751.33 L802.99,751.36 L805.92,751.39 L808.86,751.42 L811.80,751.44 L814.74,751.47 L817.67,751.49 L820.61,751.51 L823.55,751.53 L826.49,751.55 L829.42,751.57 L832.36,751.59 L835.30,751.60 L838.24,751.61 L841.17,751.62 L844.11,751.63 L847.05,751.64 L849.99,751.64 L852.92,751.65 L855.86,751.65 L858.80,751.65Z" fill="#0f52b3"/>
<circle cx="858.8" cy="749" r="2.65" fill="#0f52b3"/>
<path d="M858.00,809.05 L855.10,809.05 L852.19,809.05 L849.29,809.06 L846.38,809.06 L843.48,809.07 L840.58,809.08 L837.67,809.09 L834.77,809.10 L831.86,809.11 L828.96,809.13 L826.05,809.15 L823.15,809.17 L820.25,809.18 L817.34,809.21 L814.44,809.23 L811.53,809.25 L808.63,809.28 L805.72,809.31 L802.82,809.34 L799.92,809.37 L797.01,809.40 L794.11,809.44 L791.20,809.47 L788.27,809.51 L787.05,809.59 L785.84,809.82 L784.69,810.20 L783.61,810.72 L782.62,811.39 L781.73,812.19 L780.96,813.11 L780.29,814.14 L779.73,815.26 L779.27,816.46 L778.91,817.74 L778.65,819.11 L778.46,820.56 L778.37,822.09 L778.35,823.65 L782.25,823.75 L782.31,822.29 L782.43,820.99 L782.62,819.80 L782.87,818.74 L783.16,817.79 L783.51,816.96 L783.89,816.25 L784.30,815.65 L784.74,815.16 L785.21,814.76 L785.71,814.45 L786.26,814.20 L786.86,814.02 L787.54,813.92 L788.33,813.89 L791.20,813.93 L794.11,813.96 L797.01,814.00 L799.92,814.03 L802.82,814.06 L805.72,814.09 L808.63,814.12 L811.53,814.15 L814.44,814.17 L817.34,814.19 L820.25,814.22 L823.15,814.23 L826.05,814.25 L828.96,814.27 L831.86,814.29 L834.77,814.30 L837.67,814.31 L840.58,814.32 L843.48,814.33 L846.38,814.34 L849.29,814.34 L852.19,814.35 L855.10,814.35 L858.00,814.35Z" fill="#0f52b3"/>
<circle cx="858" cy="811.7" r="2.65" fill="#0f52b3"/>
<path d="M858.80,874.45 L855.86,874.45 L852.92,874.45 L849.99,874.46 L847.05,874.46 L844.11,874.47 L841.17,874.48 L838.24,874.49 L835.30,874.50 L832.36,874.51 L829.42,874.53 L826.49,874.55 L823.55,874.57 L820.61,874.59 L817.67,874.61 L814.74,874.63 L811.80,874.66 L808.86,874.68 L805.92,874.71 L802.99,874.74 L800.05,874.77 L797.11,874.80 L794.17,874.84 L791.24,874.87 L788.33,874.91 L787.54,874.88 L786.86,874.78 L786.26,874.60 L785.71,874.35 L785.21,874.04 L784.74,873.64 L784.30,873.15 L783.89,872.55 L783.50,871.84 L783.16,871.01 L782.86,870.07 L782.62,869.00 L782.43,867.81 L782.31,866.51 L782.25,865.05 L778.35,865.15 L778.37,866.71 L778.46,868.24 L778.65,869.69 L778.91,871.06 L779.28,872.34 L779.73,873.54 L780.29,874.66 L780.96,875.68 L781.73,876.60 L782.62,877.41 L783.61,878.08 L784.69,878.60 L785.84,878.98 L787.05,879.20 L788.27,879.29 L791.24,879.33 L794.17,879.36 L797.11,879.40 L800.05,879.43 L802.99,879.46 L805.92,879.49 L808.86,879.52 L811.80,879.54 L814.74,879.57 L817.67,879.59 L820.61,879.61 L823.55,879.63 L826.49,879.65 L829.42,879.67 L832.36,879.69 L835.30,879.70 L838.24,879.71 L841.17,879.72 L844.11,879.73 L847.05,879.74 L849.99,879.74 L852.92,879.75 L855.86,879.75 L858.80,879.75Z" fill="#0f52b3"/>
<circle cx="858.8" cy="877.1" r="2.65" fill="#0f52b3"/>
<path d="M868.60,935.65 L865.25,935.65 L861.91,935.65 L858.56,935.66 L855.22,935.66 L851.87,935.67 L848.52,935.68 L845.18,935.69 L841.83,935.70 L838.49,935.72 L835.14,935.73 L831.80,935.75 L828.45,935.77 L825.10,935.79 L821.76,935.81 L818.41,935.84 L815.07,935.87 L811.72,935.89 L808.38,935.92 L805.03,935.95 L801.68,935.99 L798.34,936.02 L794.99,936.06 L791.65,936.09 L788.33,936.13 L787.54,936.10 L786.86,936.00 L786.25,935.82 L785.70,935.57 L785.20,935.25 L784.73,934.85 L784.29,934.36 L783.88,933.76 L783.49,933.05 L783.15,932.22 L782.86,931.27 L782.61,930.20 L782.43,929.01 L782.31,927.71 L782.25,926.25 L778.35,926.35 L778.37,927.91 L778.47,929.44 L778.65,930.89 L778.92,932.25 L779.28,933.54 L779.74,934.74 L780.30,935.85 L780.97,936.88 L781.74,937.79 L782.63,938.59 L783.62,939.26 L784.69,939.78 L785.84,940.16 L787.05,940.38 L788.27,940.47 L791.65,940.51 L794.99,940.54 L798.34,940.58 L801.68,940.61 L805.03,940.65 L808.38,940.68 L811.72,940.71 L815.07,940.73 L818.41,940.76 L821.76,940.79 L825.10,940.81 L828.45,940.83 L831.80,940.85 L835.14,940.87 L838.49,940.88 L841.83,940.90 L845.18,940.91 L848.52,940.92 L851.87,940.93 L855.22,940.94 L858.56,940.94 L861.91,940.95 L865.25,940.95 L868.60,940.95Z" fill="#0f52b3"/>
<circle cx="868.6" cy="938.3" r="2.65" fill="#0f52b3"/>
<line x1="772.5" y1="844.7" x2="780.3" y2="844.7" stroke="#0f52b3" stroke-width="4"/>
<rect x="646.0" y="816.0999999999999" width="126.19999999999996" height="56.100000000000044" rx="8" fill="#fff" stroke="#0f52b3" stroke-width="4.6"/>
<path d="M236.5,1118.9 L236.5,1286" stroke="#0f52b3" stroke-width="3.8" fill="none"/>
<path d="M159.00,1110.55 L161.90,1110.55 L164.79,1110.55 L167.69,1110.54 L170.58,1110.54 L173.48,1110.53 L176.38,1110.52 L179.27,1110.51 L182.17,1110.50 L185.06,1110.49 L187.96,1110.47 L190.85,1110.45 L193.75,1110.44 L196.65,1110.42 L199.54,1110.39 L202.44,1110.37 L205.33,1110.35 L208.23,1110.32 L211.12,1110.29 L214.02,1110.26 L216.92,1110.23 L219.81,1110.20 L222.71,1110.16 L225.60,1110.13 L228.47,1110.09 L229.26,1110.12 L229.94,1110.23 L230.54,1110.40 L231.09,1110.65 L231.59,1110.96 L232.06,1111.36 L232.50,1111.85 L232.91,1112.45 L233.29,1113.16 L233.64,1113.99 L233.93,1114.94 L234.18,1116.00 L234.37,1117.19 L234.49,1118.49 L234.55,1119.95 L238.45,1119.85 L238.43,1118.29 L238.34,1116.76 L238.16,1115.31 L237.89,1113.94 L237.53,1112.66 L237.07,1111.45 L236.51,1110.34 L235.84,1109.31 L235.07,1108.39 L234.18,1107.59 L233.19,1106.92 L232.11,1106.40 L230.96,1106.02 L229.75,1105.79 L228.53,1105.71 L225.60,1105.67 L222.71,1105.64 L219.81,1105.60 L216.92,1105.57 L214.02,1105.54 L211.12,1105.51 L208.23,1105.48 L205.33,1105.45 L202.44,1105.43 L199.54,1105.41 L196.65,1105.38 L193.75,1105.36 L190.85,1105.35 L187.96,1105.33 L185.06,1105.31 L182.17,1105.30 L179.27,1105.29 L176.38,1105.28 L173.48,1105.27 L170.58,1105.26 L167.69,1105.26 L164.79,1105.25 L161.90,1105.25 L159.00,1105.25Z" fill="#0f52b3"/>
<circle cx="159" cy="1107.9" r="2.65" fill="#0f52b3"/>
<path d="M159.00,1171.75 L161.90,1171.75 L164.79,1171.75 L167.69,1171.74 L170.58,1171.74 L173.48,1171.73 L176.38,1171.72 L179.27,1171.71 L182.17,1171.70 L185.06,1171.69 L187.96,1171.67 L190.85,1171.65 L193.75,1171.64 L196.65,1171.62 L199.54,1171.59 L202.44,1171.57 L205.33,1171.55 L208.23,1171.52 L211.12,1171.49 L214.02,1171.46 L216.92,1171.43 L219.81,1171.40 L222.71,1171.36 L225.60,1171.33 L228.47,1171.29 L229.26,1171.32 L229.94,1171.43 L230.54,1171.60 L231.09,1171.85 L231.59,1172.16 L232.06,1172.56 L232.50,1173.05 L232.91,1173.65 L233.29,1174.36 L233.64,1175.19 L233.93,1176.14 L234.18,1177.20 L234.37,1178.39 L234.49,1179.69 L234.55,1181.15 L238.45,1181.05 L238.43,1179.49 L238.34,1177.96 L238.16,1176.51 L237.89,1175.14 L237.53,1173.86 L237.07,1172.65 L236.51,1171.54 L235.84,1170.51 L235.07,1169.59 L234.18,1168.79 L233.19,1168.12 L232.11,1167.60 L230.96,1167.22 L229.75,1166.99 L228.53,1166.91 L225.60,1166.87 L222.71,1166.84 L219.81,1166.80 L216.92,1166.77 L214.02,1166.74 L211.12,1166.71 L208.23,1166.68 L205.33,1166.65 L202.44,1166.63 L199.54,1166.61 L196.65,1166.58 L193.75,1166.56 L190.85,1166.55 L187.96,1166.53 L185.06,1166.51 L182.17,1166.50 L179.27,1166.49 L176.38,1166.48 L173.48,1166.47 L170.58,1166.46 L167.69,1166.46 L164.79,1166.45 L161.90,1166.45 L159.00,1166.45Z" fill="#0f52b3"/>
<circle cx="159" cy="1169.1" r="2.65" fill="#0f52b3"/>
<path d="M158.20,1237.15 L161.13,1237.15 L164.06,1237.15 L166.99,1237.14 L169.92,1237.14 L172.85,1237.13 L175.77,1237.12 L178.70,1237.11 L181.63,1237.10 L184.56,1237.09 L187.49,1237.07 L190.42,1237.05 L193.35,1237.03 L196.28,1237.01 L199.21,1236.99 L202.14,1236.97 L205.07,1236.94 L208.00,1236.92 L210.93,1236.89 L213.85,1236.86 L216.78,1236.83 L219.71,1236.80 L222.64,1236.76 L225.57,1236.73 L228.53,1236.69 L229.75,1236.61 L230.96,1236.38 L232.11,1236.00 L233.19,1235.48 L234.18,1234.81 L235.07,1234.00 L235.84,1233.09 L236.51,1232.06 L237.07,1230.94 L237.52,1229.74 L237.89,1228.46 L238.15,1227.09 L238.34,1225.64 L238.43,1224.11 L238.45,1222.55 L234.55,1222.45 L234.49,1223.91 L234.37,1225.21 L234.18,1226.40 L233.94,1227.47 L233.64,1228.41 L233.29,1229.24 L232.91,1229.95 L232.50,1230.55 L232.06,1231.04 L231.59,1231.44 L231.09,1231.75 L230.54,1232.00 L229.94,1232.18 L229.26,1232.28 L228.47,1232.31 L225.57,1232.27 L222.64,1232.24 L219.71,1232.20 L216.78,1232.17 L213.85,1232.14 L210.93,1232.11 L208.00,1232.08 L205.07,1232.06 L202.14,1232.03 L199.21,1232.01 L196.28,1231.99 L193.35,1231.97 L190.42,1231.95 L187.49,1231.93 L184.56,1231.91 L181.63,1231.90 L178.70,1231.89 L175.77,1231.88 L172.85,1231.87 L169.92,1231.86 L166.99,1231.86 L164.06,1231.85 L161.13,1231.85 L158.20,1231.85Z" fill="#0f52b3"/>
<circle cx="158.2" cy="1234.5" r="2.65" fill="#0f52b3"/>
<path d="M150.30,1299.65 L153.56,1299.65 L156.82,1299.65 L160.08,1299.64 L163.33,1299.64 L166.59,1299.63 L169.85,1299.62 L173.11,1299.61 L176.37,1299.60 L179.62,1299.58 L182.88,1299.57 L186.14,1299.55 L189.40,1299.53 L192.66,1299.51 L195.92,1299.49 L199.18,1299.46 L202.43,1299.44 L205.69,1299.41 L208.95,1299.38 L212.21,1299.35 L215.47,1299.32 L218.72,1299.28 L221.98,1299.25 L225.24,1299.21 L228.53,1299.17 L229.75,1299.09 L230.96,1298.86 L232.11,1298.49 L233.18,1297.96 L234.17,1297.30 L235.06,1296.50 L235.83,1295.58 L236.50,1294.56 L237.06,1293.44 L237.52,1292.24 L237.88,1290.95 L238.15,1289.59 L238.33,1288.14 L238.43,1286.61 L238.45,1285.05 L234.55,1284.95 L234.49,1286.41 L234.37,1287.71 L234.19,1288.90 L233.94,1289.97 L233.65,1290.92 L233.30,1291.75 L232.92,1292.46 L232.51,1293.06 L232.07,1293.55 L231.60,1293.95 L231.10,1294.27 L230.55,1294.51 L229.94,1294.69 L229.26,1294.80 L228.47,1294.83 L225.24,1294.79 L221.98,1294.75 L218.72,1294.72 L215.47,1294.68 L212.21,1294.65 L208.95,1294.62 L205.69,1294.59 L202.43,1294.56 L199.18,1294.54 L195.92,1294.51 L192.66,1294.49 L189.40,1294.47 L186.14,1294.45 L182.88,1294.43 L179.62,1294.42 L176.37,1294.40 L173.11,1294.39 L169.85,1294.38 L166.59,1294.37 L163.33,1294.36 L160.08,1294.36 L156.82,1294.35 L153.56,1294.35 L150.30,1294.35Z" fill="#0f52b3"/>
<circle cx="150.3" cy="1297" r="2.65" fill="#0f52b3"/>
<line x1="236.5" y1="1202.8" x2="255.1" y2="1202.8" stroke="#0f52b3" stroke-width="4"/>
<rect x="255.4" y="1171.3999999999999" width="125.90000000000003" height="56.000000000000135" rx="8" fill="#fff" stroke="#0f52b3" stroke-width="4.6"/>
<path d="M786.1,1118.1 L786.1,1284.6" stroke="#0f52b3" stroke-width="3.8" fill="none"/>
<path d="M864.10,1104.45 L861.18,1104.45 L858.27,1104.45 L855.35,1104.46 L852.43,1104.46 L849.52,1104.47 L846.60,1104.48 L843.68,1104.49 L840.77,1104.50 L837.85,1104.51 L834.93,1104.53 L832.02,1104.55 L829.10,1104.57 L826.18,1104.59 L823.27,1104.61 L820.35,1104.63 L817.43,1104.65 L814.52,1104.68 L811.60,1104.71 L808.68,1104.74 L805.77,1104.77 L802.85,1104.80 L799.93,1104.84 L797.02,1104.87 L794.07,1104.91 L792.85,1104.99 L791.64,1105.22 L790.49,1105.60 L789.41,1106.12 L788.42,1106.79 L787.53,1107.59 L786.76,1108.51 L786.09,1109.54 L785.53,1110.66 L785.07,1111.86 L784.71,1113.14 L784.45,1114.51 L784.26,1115.96 L784.17,1117.49 L784.15,1119.05 L788.05,1119.15 L788.11,1117.69 L788.23,1116.39 L788.42,1115.20 L788.67,1114.13 L788.96,1113.19 L789.31,1112.36 L789.69,1111.65 L790.10,1111.05 L790.54,1110.56 L791.01,1110.16 L791.51,1109.85 L792.06,1109.60 L792.66,1109.42 L793.34,1109.32 L794.13,1109.29 L797.02,1109.33 L799.93,1109.36 L802.85,1109.40 L805.77,1109.43 L808.68,1109.46 L811.60,1109.49 L814.52,1109.52 L817.43,1109.55 L820.35,1109.57 L823.27,1109.59 L826.18,1109.61 L829.10,1109.63 L832.02,1109.65 L834.93,1109.67 L837.85,1109.69 L840.77,1109.70 L843.68,1109.71 L846.60,1109.72 L849.52,1109.73 L852.43,1109.74 L855.35,1109.74 L858.27,1109.75 L861.18,1109.75 L864.10,1109.75Z" fill="#0f52b3"/>
<circle cx="864.1" cy="1107.1" r="2.65" fill="#0f52b3"/>
<path d="M864.00,1166.45 L861.09,1166.45 L858.17,1166.45 L855.26,1166.46 L852.35,1166.46 L849.44,1166.47 L846.52,1166.48 L843.61,1166.49 L840.70,1166.50 L837.79,1166.51 L834.88,1166.53 L831.96,1166.55 L829.05,1166.57 L826.14,1166.59 L823.23,1166.61 L820.31,1166.63 L817.40,1166.65 L814.49,1166.68 L811.58,1166.71 L808.66,1166.74 L805.75,1166.77 L802.84,1166.80 L799.92,1166.84 L797.01,1166.87 L794.07,1166.91 L792.85,1166.99 L791.64,1167.22 L790.49,1167.60 L789.41,1168.12 L788.42,1168.79 L787.53,1169.59 L786.76,1170.51 L786.09,1171.54 L785.53,1172.66 L785.07,1173.86 L784.71,1175.14 L784.45,1176.51 L784.26,1177.96 L784.17,1179.49 L784.15,1181.05 L788.05,1181.15 L788.11,1179.69 L788.23,1178.39 L788.42,1177.20 L788.67,1176.13 L788.96,1175.19 L789.31,1174.36 L789.69,1173.65 L790.10,1173.05 L790.54,1172.56 L791.01,1172.16 L791.51,1171.85 L792.06,1171.60 L792.66,1171.42 L793.34,1171.32 L794.13,1171.29 L797.01,1171.33 L799.92,1171.36 L802.84,1171.40 L805.75,1171.43 L808.66,1171.46 L811.58,1171.49 L814.49,1171.52 L817.40,1171.55 L820.31,1171.57 L823.23,1171.59 L826.14,1171.61 L829.05,1171.63 L831.96,1171.65 L834.88,1171.67 L837.79,1171.69 L840.70,1171.70 L843.61,1171.71 L846.52,1171.72 L849.44,1171.73 L852.35,1171.74 L855.26,1171.74 L858.17,1171.75 L861.09,1171.75 L864.00,1171.75Z" fill="#0f52b3"/>
<circle cx="864" cy="1169.1" r="2.65" fill="#0f52b3"/>
<path d="M864.60,1231.85 L861.66,1231.85 L858.73,1231.85 L855.79,1231.86 L852.85,1231.86 L849.91,1231.87 L846.98,1231.88 L844.04,1231.89 L841.10,1231.90 L838.16,1231.91 L835.23,1231.93 L832.29,1231.95 L829.35,1231.97 L826.41,1231.99 L823.48,1232.01 L820.54,1232.03 L817.60,1232.06 L814.66,1232.08 L811.73,1232.11 L808.79,1232.14 L805.85,1232.17 L802.91,1232.20 L799.98,1232.24 L797.04,1232.27 L794.13,1232.31 L793.34,1232.28 L792.66,1232.18 L792.06,1232.00 L791.51,1231.75 L791.01,1231.44 L790.54,1231.04 L790.10,1230.55 L789.69,1229.95 L789.30,1229.24 L788.96,1228.41 L788.66,1227.47 L788.42,1226.40 L788.23,1225.21 L788.11,1223.91 L788.05,1222.45 L784.15,1222.55 L784.17,1224.11 L784.26,1225.64 L784.45,1227.09 L784.71,1228.46 L785.08,1229.74 L785.53,1230.94 L786.09,1232.06 L786.76,1233.08 L787.53,1234.00 L788.42,1234.81 L789.41,1235.48 L790.49,1236.00 L791.64,1236.38 L792.85,1236.60 L794.07,1236.69 L797.04,1236.73 L799.98,1236.76 L802.91,1236.80 L805.85,1236.83 L808.79,1236.86 L811.73,1236.89 L814.66,1236.92 L817.60,1236.94 L820.54,1236.97 L823.48,1236.99 L826.41,1237.01 L829.35,1237.03 L832.29,1237.05 L835.23,1237.07 L838.16,1237.09 L841.10,1237.10 L844.04,1237.11 L846.98,1237.12 L849.91,1237.13 L852.85,1237.14 L855.79,1237.14 L858.73,1237.15 L861.66,1237.15 L864.60,1237.15Z" fill="#0f52b3"/>
<circle cx="864.6" cy="1234.5" r="2.65" fill="#0f52b3"/>
<path d="M872.60,1292.95 L869.33,1292.95 L866.06,1292.95 L862.79,1292.96 L859.52,1292.96 L856.25,1292.97 L852.98,1292.98 L849.70,1292.99 L846.43,1293.00 L843.16,1293.02 L839.89,1293.03 L836.62,1293.05 L833.35,1293.07 L830.08,1293.09 L826.81,1293.11 L823.54,1293.14 L820.27,1293.16 L817.00,1293.19 L813.73,1293.22 L810.45,1293.25 L807.18,1293.28 L803.91,1293.32 L800.64,1293.35 L797.37,1293.39 L794.13,1293.43 L793.34,1293.40 L792.66,1293.29 L792.05,1293.11 L791.50,1292.87 L791.00,1292.55 L790.53,1292.15 L790.09,1291.66 L789.68,1291.06 L789.30,1290.35 L788.95,1289.52 L788.66,1288.57 L788.41,1287.50 L788.23,1286.31 L788.11,1285.01 L788.05,1283.55 L784.15,1283.65 L784.17,1285.21 L784.27,1286.74 L784.45,1288.19 L784.72,1289.55 L785.08,1290.84 L785.54,1292.04 L786.10,1293.16 L786.77,1294.18 L787.54,1295.10 L788.43,1295.90 L789.42,1296.56 L790.49,1297.09 L791.64,1297.46 L792.85,1297.69 L794.07,1297.77 L797.37,1297.81 L800.64,1297.85 L803.91,1297.88 L807.18,1297.92 L810.45,1297.95 L813.73,1297.98 L817.00,1298.01 L820.27,1298.04 L823.54,1298.06 L826.81,1298.09 L830.08,1298.11 L833.35,1298.13 L836.62,1298.15 L839.89,1298.17 L843.16,1298.18 L846.43,1298.20 L849.70,1298.21 L852.98,1298.22 L856.25,1298.23 L859.52,1298.24 L862.79,1298.24 L866.06,1298.25 L869.33,1298.25 L872.60,1298.25Z" fill="#0f52b3"/>
<circle cx="872.6" cy="1295.6" r="2.65" fill="#0f52b3"/>
<line x1="774.3" y1="1202.8" x2="786.1" y2="1202.8" stroke="#0f52b3" stroke-width="4"/>
<rect x="649.4" y="1172.7" width="124.59999999999994" height="54.69999999999995" rx="8" fill="#fff" stroke="#0f52b3" stroke-width="4.6"/>
</svg>
<div class="t" style="left:399.48px;top:99.64px;font-size:35.88px;line-height:35.88px;letter-spacing:1.79px;color:#24529a;font-weight:400;-webkit-text-stroke:0.9px #24529a;transform:scaleX(1.0608)">社区运营思维导图</div>
<div class="t" style="left:374.27px;top:156.47px;font-size:28.57px;line-height:28.57px;letter-spacing:0.00px;color:#2e2e2e;font-weight:400;transform:scaleX(0.9435)">Word</div>
<div class="t" style="left:439.30px;top:159.08px;font-size:24.84px;line-height:24.84px;letter-spacing:1.24px;color:#2e2e2e;font-weight:400;transform:scaleX(0.9953)">格式</div>
<div class="t" style="left:512.47px;top:157.55px;font-size:27.39px;line-height:27.39px;letter-spacing:0.00px;color:#2e2e2e;font-weight:400;transform:scaleX(0.9633)">A4</div>
<div class="t" style="left:546.00px;top:159.73px;font-size:23.63px;line-height:23.63px;letter-spacing:1.18px;color:#2e2e2e;font-weight:400;transform:scaleX(1.0646)">打印</div>
<div class="t" style="left:619.88px;top:160.00px;font-size:23.42px;line-height:23.42px;letter-spacing:1.17px;color:#2e2e2e;font-weight:400;transform:scaleX(1.0665)">内容可更改</div>
<div class="t" style="left:10.10px;top:1497.73px;font-size:23.27px;line-height:23.27px;letter-spacing:1.16px;font-weight:400;transform:scaleX(1.0177);color:#9a9a9a;-webkit-text-stroke:2px #9a9a9a">图行天下</div><div class="t" style="left:10.10px;top:1497.73px;font-size:23.27px;line-height:23.27px;letter-spacing:1.16px;font-weight:400;transform:scaleX(1.0177);color:#fff">图行天下</div>
<div class="t" style="left:109.54px;top:1496.19px;font-size:26.05px;line-height:26.05px;letter-spacing:0.00px;font-weight:400;transform:scaleX(1.1151);color:#9a9a9a;-webkit-text-stroke:2px #9a9a9a">photophoto.cn</div><div class="t" style="left:109.54px;top:1496.19px;font-size:26.05px;line-height:26.05px;letter-spacing:0.00px;font-weight:400;transform:scaleX(1.1151);color:#fff">photophoto.cn</div>
<div class="t" style="left:302.56px;top:1498.65px;font-size:22.27px;line-height:22.27px;letter-spacing:1.11px;font-weight:400;transform:scaleX(1.0779);color:#9a9a9a;-webkit-text-stroke:2px #9a9a9a">编号</div><div class="t" style="left:302.56px;top:1498.65px;font-size:22.27px;line-height:22.27px;letter-spacing:1.11px;font-weight:400;transform:scaleX(1.0779);color:#fff">编号</div>
<div class="t" style="left:377.44px;top:1496.12px;font-size:25.66px;line-height:25.66px;letter-spacing:0.00px;font-weight:400;transform:scaleX(1.0355);color:#9a9a9a;-webkit-text-stroke:2px #9a9a9a">70122467</div><div class="t" style="left:377.44px;top:1496.12px;font-size:25.66px;line-height:25.66px;letter-spacing:0.00px;font-weight:400;transform:scaleX(1.0355);color:#fff">70122467</div>
<div class="t" style="left:349.60px;top:386.81px;font-size:35.21px;line-height:35.21px;letter-spacing:4.58px;color:#1a55b5;font-weight:700;-webkit-text-stroke:1.3px #1a55b5;transform:scaleX(1.0859)">社区运营思维导图</div>
<div class="t" style="left:415.05px;top:828.60px;font-size:44.95px;line-height:44.95px;letter-spacing:2.70px;color:#1d4a7c;font-weight:700;-webkit-text-stroke:1.4px #1d4a7c;transform:scaleX(1.0011)">社区运营</div>
<div class="t" style="left:271.61px;top:580.13px;font-size:22.86px;line-height:22.86px;letter-spacing:1.14px;color:#1d4a7c;font-weight:700;-webkit-text-stroke:0.55px #1d4a7c;transform:scaleX(1.0093)">阶段运营</div>
<div class="t" style="left:165.40px;top:509.40px;font-size:18.37px;line-height:18.37px;letter-spacing:0.92px;color:#1d4a7c;font-weight:700;-webkit-text-stroke:0.4px #1d4a7c;transform:scaleX(1.0837)">预热期</div>
<div class="t" style="left:165.60px;top:580.40px;font-size:19.30px;line-height:19.30px;letter-spacing:0.97px;color:#1d4a7c;font-weight:700;-webkit-text-stroke:0.4px #1d4a7c;transform:scaleX(1.0278)">全量期</div>
<div class="t" style="left:165.30px;top:644.99px;font-size:19.10px;line-height:19.10px;letter-spacing:0.96px;color:#1d4a7c;font-weight:700;-webkit-text-stroke:0.4px #1d4a7c;transform:scaleX(1.0435)">运营期</div>
<div class="t" style="left:663.38px;top:583.52px;font-size:18.10px;line-height:18.10px;letter-spacing:0.90px;color:#1d4a7c;font-weight:700;-webkit-text-stroke:0.55px #1d4a7c;transform:scaleX(1.1136)">目标用户</div>
<div class="t" style="left:797.49px;top:521.55px;font-size:18.46px;line-height:18.46px;letter-spacing:0.92px;color:#1d4a7c;font-weight:700;-webkit-text-stroke:0.4px #1d4a7c;transform:scaleX(1.0900)">了解用户</div>
<div class="t" style="left:799.19px;top:580.31px;font-size:17.51px;line-height:17.51px;letter-spacing:0.88px;color:#1d4a7c;font-weight:700;-webkit-text-stroke:0.4px #1d4a7c;transform:scaleX(1.1255)">调研竞品</div>
<div class="t" style="left:799.09px;top:645.34px;font-size:17.94px;line-height:17.94px;letter-spacing:0.90px;color:#1d4a7c;font-weight:700;-webkit-text-stroke:0.4px #1d4a7c;transform:scaleX(1.0997)">熟悉产品</div>
<div class="t" style="left:269.30px;top:838.88px;font-size:19.45px;line-height:19.45px;letter-spacing:0.97px;color:#1d4a7c;font-weight:700;-webkit-text-stroke:0.55px #1d4a7c;transform:scaleX(1.1626)">成熟客户</div>
<div class="t" style="left:151.80px;top:776.18px;font-size:17.56px;line-height:17.56px;letter-spacing:0.88px;color:#1d4a7c;font-weight:700;-webkit-text-stroke:0.4px #1d4a7c;transform:scaleX(1.1446)">普通期</div>
<div class="t" style="left:152.10px;top:845.32px;font-size:17.61px;line-height:17.61px;letter-spacing:0.88px;color:#1d4a7c;font-weight:700;-webkit-text-stroke:0.4px #1d4a7c;transform:scaleX(1.1249)">活跃用户</div>
<div class="t" style="left:152.48px;top:900.69px;font-size:17.29px;line-height:17.29px;letter-spacing:0.86px;color:#1d4a7c;font-weight:700;-webkit-text-stroke:0.4px #1d4a7c;transform:scaleX(1.1358)">核心用户</div>
<div class="t" style="left:663.87px;top:836.34px;font-size:21.03px;line-height:21.03px;letter-spacing:0.00px;color:#1d4a7c;font-weight:700;-webkit-text-stroke:0.55px #1d4a7c;transform:scaleX(1.0340)">定</div>
<div class="t" style="left:735.99px;top:835.39px;font-size:22.29px;line-height:22.29px;letter-spacing:0.00px;color:#1d4a7c;font-weight:700;-webkit-text-stroke:0.55px #1d4a7c;transform:scaleX(0.9879)">位</div>
<div class="t" style="left:795.50px;top:776.72px;font-size:17.70px;line-height:17.70px;letter-spacing:0.89px;color:#1d4a7c;font-weight:700;-webkit-text-stroke:0.4px #1d4a7c;transform:scaleX(1.1338)">分析竞品</div>
<div class="t" style="left:795.40px;top:841.33px;font-size:18.01px;line-height:18.01px;letter-spacing:0.90px;color:#1d4a7c;font-weight:700;-webkit-text-stroke:0.4px #1d4a7c;transform:scaleX(1.1039)">产品定位</div>
<div class="t" style="left:792.53px;top:894.98px;font-size:18.45px;line-height:18.45px;letter-spacing:0.92px;color:#1d4a7c;font-weight:700;-webkit-text-stroke:0.4px #1d4a7c;transform:scaleX(1.1193)">自身优势</div>
<div class="t" style="left:266.01px;top:1187.92px;font-size:21.07px;line-height:21.07px;letter-spacing:1.05px;color:#1d4a7c;font-weight:700;-webkit-text-stroke:0.55px #1d4a7c;transform:scaleX(1.0698)">搭建体系</div>
<div class="t" style="left:140.00px;top:1131.17px;font-size:18.29px;line-height:18.29px;letter-spacing:0.91px;color:#1d4a7c;font-weight:700;-webkit-text-stroke:0.4px #1d4a7c;transform:scaleX(1.0977)">引入阶段</div>
<div class="t" style="left:142.20px;top:1198.09px;font-size:18.81px;line-height:18.81px;letter-spacing:0.94px;color:#1d4a7c;font-weight:700;-webkit-text-stroke:0.4px #1d4a7c;transform:scaleX(1.0632)">留存阶段</div>
<div class="t" style="left:143.09px;top:1259.34px;font-size:18.27px;line-height:18.27px;letter-spacing:0.91px;color:#1d4a7c;font-weight:700;-webkit-text-stroke:0.4px #1d4a7c;transform:scaleX(1.1001)">回流阶段</div>
<div class="t" style="left:663.68px;top:1192.35px;font-size:21.33px;line-height:21.33px;letter-spacing:1.07px;color:#1d4a7c;font-weight:700;-webkit-text-stroke:0.55px #1d4a7c;transform:scaleX(1.0642)">客户分类</div>
<div class="t" style="left:801.90px;top:1128.91px;font-size:17.70px;line-height:17.70px;letter-spacing:0.89px;color:#1d4a7c;font-weight:700;-webkit-text-stroke:0.4px #1d4a7c;transform:scaleX(1.1366)">新进客户</div>
<div class="t" style="left:802.10px;top:1192.19px;font-size:17.13px;line-height:17.13px;letter-spacing:0.86px;color:#1d4a7c;font-weight:700;-webkit-text-stroke:0.4px #1d4a7c;transform:scaleX(1.1718)">成熟客户</div>
<div class="t" style="left:801.90px;top:1258.11px;font-size:17.70px;line-height:17.70px;letter-spacing:0.89px;color:#1d4a7c;font-weight:700;-webkit-text-stroke:0.4px #1d4a7c;transform:scaleX(1.1366)">衰退客户</div>
<div class="abs" style="left:500.4px;top:158.8px;width:1.5px;height:25.2px;background:#3a3a3a"></div>
<div class="abs" style="left:607.1px;top:158.8px;width:1.5px;height:25.2px;background:#3a3a3a"></div>
<div class="abs" style="left:355.8px;top:1504.6px;width:5.6px;height:5.6px;border-radius:50%;background:#fff;border:1px solid #8f8f8f;box-sizing:border-box"></div>
<div class="abs" style="left:355.8px;top:1512.6px;width:5.6px;height:5.6px;border-radius:50%;background:#fff;border:1px solid #8f8f8f;box-sizing:border-box"></div>
</body></html>
